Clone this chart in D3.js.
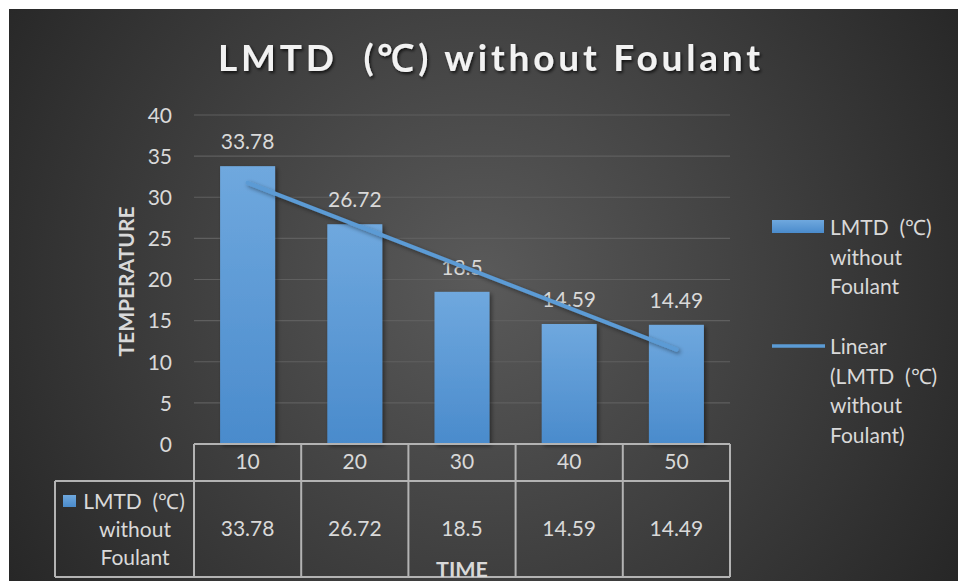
<!DOCTYPE html>
<html>
<head>
<meta charset="utf-8">
<script src="https://cdn.jsdelivr.net/npm/d3@7/dist/d3.min.js"></script>
<style>
  html, body { margin: 0; padding: 0; background: #ffffff; }
  svg { display: block; }
  text { font-family: Lato, "Open Sans", sans-serif; white-space: pre; }
</style>
</head>
<body>
<svg id="chart" width="958" height="581"></svg>
<script>
// Chart data
const categories = ["10", "20", "30", "40", "50"];
const lmtdValues = [33.78, 26.72, 18.5, 14.59, 14.49];
const yTicks = [0, 5, 10, 15, 20, 25, 30, 35, 40];
const seriesName = ["LMTD  (\u2103)", "without", "Foulant"];
const trendName = ["Linear", "(LMTD  (\u2103)", "without", "Foulant)"];
const chartTitle = "LMTD  (\u2103) without Foulant";
const xTitle = "TIME";
const yTitle = "TEMPERATURE";

const svg = d3.select("#chart");
const defs = svg.append("defs");
const fs = 21;

// Dark radial background
const bg = defs.append("radialGradient").attr("id", "bgGrad")
  .attr("gradientUnits", "userSpaceOnUse")
  .attr("cx", 480).attr("cy", 280).attr("r", 600);
bg.append("stop").attr("offset", "0%").attr("stop-color", "#5a5a5a");
bg.append("stop").attr("offset", "100%").attr("stop-color", "#232323");

// Bar gradient
const barGrad = defs.append("linearGradient").attr("id", "barGrad")
  .attr("x1", 0).attr("y1", 0).attr("x2", 0).attr("y2", 1);
barGrad.append("stop").attr("offset", "0%").attr("stop-color", "#6fa8de");
barGrad.append("stop").attr("offset", "100%").attr("stop-color", "#4a8bcc");

const shadow = defs.append("filter").attr("id", "shadow")
  .attr("x", "-20%").attr("y", "-20%").attr("width", "150%").attr("height", "150%");
shadow.append("feDropShadow").attr("dx", 2).attr("dy", 2).attr("stdDeviation", 2)
  .attr("flood-color", "#000").attr("flood-opacity", 0.45);

const titleShadow = defs.append("filter").attr("id", "titleShadow")
  .attr("x", "-10%").attr("y", "-30%").attr("width", "120%").attr("height", "160%");
titleShadow.append("feDropShadow").attr("dx", 1.5).attr("dy", 2).attr("stdDeviation", 1.5)
  .attr("flood-color", "#000").attr("flood-opacity", 0.7);

svg.append("rect").attr("x", 9).attr("y", 9).attr("width", 949).attr("height", 572)
  .attr("fill", "url(#bgGrad)");

// Title
svg.append("text")
  .attr("x", 489).attr("y", 71)
  .attr("text-anchor", "middle")
  .attr("font-size", 37).attr("font-weight", 700)
  .attr("textLength", 542).attr("lengthAdjust", "spacing")
  .attr("fill", "#f2f2f2")
  .attr("filter", "url(#titleShadow)")
  .text(chartTitle);

// Scales
const plotLeft = 194, plotRight = 730, plotTop = 115, plotBottom = 444;
const x = d3.scaleBand().domain(categories).range([plotLeft, plotRight]).paddingInner(0.487).paddingOuter(0.2435);
const col = d3.scaleBand().domain(categories).range([plotLeft, plotRight]);
const y = d3.scaleLinear().domain([0, 40]).range([plotBottom, plotTop]);

// Gridlines
svg.append("g").selectAll("line").data(yTicks.filter(d => d > 0)).join("line")
  .attr("x1", plotLeft).attr("x2", plotRight)
  .attr("y1", d => y(d)).attr("y2", d => y(d))
  .attr("stroke", "#5f5f5f").attr("stroke-width", 1.2);

// Y axis labels
const yAxis = d3.axisLeft(y).tickValues(yTicks).tickSize(0).tickPadding(0);
const yG = svg.append("g").attr("transform", "translate(172,0)").call(yAxis);
yG.select(".domain").remove();
yG.selectAll("text").attr("font-size", fs).attr("fill", "#d9d9d9")
  .attr("font-family", "Lato, sans-serif").attr("dy", "0.35em");

// Y title
svg.append("text")
  .attr("transform", `translate(133.5,${(plotTop + plotBottom) / 2 + 2}) rotate(-90)`)
  .attr("text-anchor", "middle")
  .attr("font-size", 21).attr("font-weight", 700)
  .attr("fill", "#d9d9d9")
  .text(yTitle);

// Bars
svg.append("g").selectAll("rect").data(lmtdValues).join("rect")
  .attr("x", (d, i) => x(categories[i]))
  .attr("width", x.bandwidth())
  .attr("y", d => y(d))
  .attr("height", d => y(0) - y(d))
  .attr("fill", "url(#barGrad)")
  .attr("filter", "url(#shadow)");

// Data labels
svg.append("g").selectAll("text").data(lmtdValues).join("text")
  .attr("x", (d, i) => x(categories[i]) + x.bandwidth() / 2)
  .attr("y", d => y(d) - 17)
  .attr("text-anchor", "middle")
  .attr("font-size", fs).attr("fill", "#d9d9d9")
  .text(d => String(d));

// Linear trendline (least squares on category index)
const n = lmtdValues.length;
const xs = lmtdValues.map((d, i) => i + 1);
const mx = d3.mean(xs), my = d3.mean(lmtdValues);
const slope = d3.sum(xs, (xi, i) => (xi - mx) * (lmtdValues[i] - my)) / d3.sum(xs, xi => (xi - mx) ** 2);
const intercept = my - slope * mx;
const trendPts = [1, n].map(t => [x(categories[t - 1]) + x.bandwidth() / 2, y(intercept + slope * t)]);
svg.append("path")
  .attr("d", d3.line()(trendPts))
  .attr("fill", "none").attr("stroke", "#5b9bd5").attr("stroke-width", 4)
  .attr("stroke-linecap", "round")
  .attr("filter", "url(#shadow)");

// Data table
const tableColor = "#b3b3b3";
const headerBottom = 481, tableBottom = 577, tableLeft = 55;
const tbl = svg.append("g").attr("stroke", tableColor).attr("stroke-width", 2).attr("fill", "none");
tbl.append("line").attr("x1", plotLeft).attr("x2", plotRight).attr("y1", plotBottom).attr("y2", plotBottom);
tbl.append("line").attr("x1", tableLeft).attr("x2", plotRight).attr("y1", headerBottom).attr("y2", headerBottom);
tbl.append("line").attr("x1", tableLeft).attr("x2", plotRight).attr("y1", tableBottom).attr("y2", tableBottom);
tbl.append("line").attr("x1", tableLeft).attr("x2", tableLeft).attr("y1", headerBottom).attr("y2", tableBottom);
tbl.selectAll(".sep").data(categories.concat(["end"])).join("line")
  .attr("x1", (d, i) => plotLeft + i * col.bandwidth())
  .attr("x2", (d, i) => plotLeft + i * col.bandwidth())
  .attr("y1", plotBottom).attr("y2", tableBottom);

svg.append("g").selectAll("text").data(categories).join("text")
  .attr("x", d => col(d) + col.bandwidth() / 2)
  .attr("y", 469)
  .attr("text-anchor", "middle")
  .attr("font-size", fs).attr("fill", "#d9d9d9")
  .text(d => d);

svg.append("g").selectAll("text").data(lmtdValues).join("text")
  .attr("x", (d, i) => col(categories[i]) + col.bandwidth() / 2)
  .attr("y", 536)
  .attr("text-anchor", "middle")
  .attr("font-size", fs).attr("fill", "#d9d9d9")
  .text(d => String(d));

// Series label cell
svg.append("rect").attr("x", 63).attr("y", 495).attr("width", 13).attr("height", 12)
  .attr("fill", "url(#barGrad)");
svg.append("g").selectAll("text").data(seriesName).join("text")
  .attr("x", (d, i) => i === 0 ? 134 : 135)
  .attr("y", (d, i) => 509 + i * 28)
  .attr("text-anchor", "middle")
  .attr("font-size", fs).attr("fill", "#d9d9d9")
  .text(d => d);

// X title
svg.append("text")
  .attr("x", 462).attr("y", 577)
  .attr("text-anchor", "middle")
  .attr("font-size", 21.5).attr("font-weight", 700)
  .attr("fill", "#d9d9d9")
  .text(xTitle);

// Legend
svg.append("rect").attr("x", 772).attr("y", 220).attr("width", 52).attr("height", 13)
  .attr("fill", "url(#barGrad)");
svg.append("g").selectAll("text").data(seriesName).join("text")
  .attr("x", 830).attr("y", (d, i) => 235 + i * 29.5)
  .attr("font-size", fs).attr("fill", "#d9d9d9")
  .text(d => d);
svg.append("line").attr("x1", 772).attr("x2", 825).attr("y1", 346).attr("y2", 346)
  .attr("stroke", "#5b9bd5").attr("stroke-width", 3.5);
svg.append("g").selectAll("text").data(trendName).join("text")
  .attr("x", 830).attr("y", (d, i) => 354 + i * 29.5)
  .attr("font-size", fs).attr("fill", "#d9d9d9")
  .text(d => d);
</script>
</body>
</html>
